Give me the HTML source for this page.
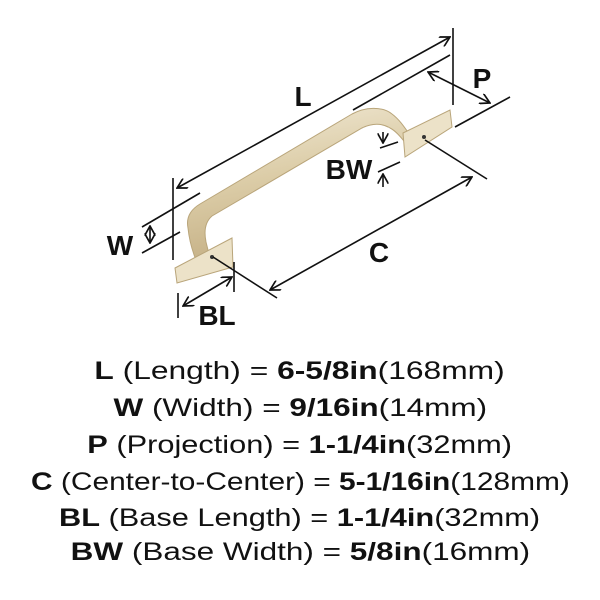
<!DOCTYPE html>
<html><head><style>
body{margin:0;background:#fff;width:600px;height:600px;overflow:hidden;font-family:"Liberation Sans",sans-serif;}
.t{position:absolute;left:0;width:600px;text-align:center;font-size:25px;line-height:30px;color:#111;white-space:nowrap;}
.t span{display:inline-block;}
b{font-weight:bold}
</style></head><body>
<svg width="600" height="600" style="position:absolute;left:0;top:0">
<defs>
<linearGradient id="g" x1="0" y1="0" x2="0.3" y2="1">
<stop offset="0" stop-color="#f3ecda"/><stop offset="0.5" stop-color="#dccda8"/><stop offset="1" stop-color="#c4af84"/>
</linearGradient>
<marker id="a" viewBox="0 0 10 10" refX="9" refY="5" markerWidth="7" markerHeight="7" orient="auto-start-reverse"><path d="M0,0 L9,5 L0,10" fill="none" stroke="#111" stroke-width="1.5"/></marker>
</defs>
<path d="M188,228 C186,218 190,210 200,204 L352,114 C365,107 382,106 392,114 C400,120 405,128 412,138 L412,150 C404,142 398,132 390,128 C382,123 372,123 362,128 L212,216 C205,222 204,232 206,242 L210,258 L196,260 C192,250 189,238 188,228 Z" fill="url(#g)" stroke="#b9a57a" stroke-width="1"/>
<path d="M175,268 L232,238 L233,267 L177,283 Z" fill="#ece2c8" stroke="#b9a57a"/>
<path d="M403,133 L450,110 L452,127 L405,157 Z" fill="#ece2c8" stroke="#b9a57a"/>
<circle cx="212" cy="257" r="2" fill="#333"/><circle cx="424" cy="137" r="2" fill="#333"/>
<g stroke="#111" stroke-width="1.6" fill="none">
<line x1="177" y1="188" x2="450" y2="37" marker-start="url(#a)" marker-end="url(#a)"/>
<line x1="453" y1="28" x2="453" y2="105"/>
<line x1="173" y1="178" x2="173" y2="260"/>
<line x1="353" y1="110" x2="450" y2="55"/>
<line x1="428" y1="72" x2="490" y2="103" marker-start="url(#a)" marker-end="url(#a)"/>
<line x1="455" y1="127" x2="510" y2="97"/>
<line x1="383" y1="132" x2="383" y2="143" marker-end="url(#a)"/>
<line x1="380" y1="148" x2="398" y2="142"/>
<line x1="378" y1="172" x2="400" y2="162"/>
<line x1="383" y1="187" x2="383" y2="174" marker-end="url(#a)"/>
<line x1="270" y1="290" x2="472" y2="177" marker-start="url(#a)" marker-end="url(#a)"/>
<line x1="425" y1="140" x2="487" y2="179"/>
<line x1="213" y1="257" x2="277" y2="298"/>
<line x1="142" y1="227" x2="200" y2="193"/>
<line x1="142" y1="253" x2="180" y2="232"/>
<line x1="150" y1="226" x2="150" y2="243" marker-start="url(#a)" marker-end="url(#a)"/>
<line x1="178" y1="293" x2="178" y2="318"/>
<line x1="234" y1="262" x2="234" y2="292"/>
<line x1="183" y1="306" x2="232" y2="277" marker-start="url(#a)" marker-end="url(#a)"/>
</g>
<g font-family="Liberation Sans,sans-serif" font-size="28" font-weight="bold" fill="#111" text-anchor="middle">
<text x="303" y="106">L</text>
<text x="482" y="88">P</text>
<text x="349" y="179">BW</text>
<text x="379" y="262">C</text>
<text x="120" y="255">W</text>
<text x="217" y="325">BL</text>
</g>
</svg>
<div class="t" style="top:356px"><span style="transform:scaleX(1.27)"><b>L</b> (Length) = <b>6-5/8in</b>(168mm)</span></div>
<div class="t" style="top:393px"><span style="transform:scaleX(1.26)"><b>W</b> (Width) = <b>9/16in</b>(14mm)</span></div>
<div class="t" style="top:430px"><span style="transform:scaleX(1.23)"><b>P</b> (Projection) = <b>1-1/4in</b>(32mm)</span></div>
<div class="t" style="top:467px"><span style="transform:scaleX(1.195)"><b>C</b> (Center-to-Center) = <b>5-1/16in</b>(128mm)</span></div>
<div class="t" style="top:503px"><span style="transform:scaleX(1.23)"><b>BL</b> (Base Length) = <b>1-1/4in</b>(32mm)</span></div>
<div class="t" style="top:537px"><span style="transform:scaleX(1.26)"><b>BW</b> (Base Width) = <b>5/8in</b>(16mm)</span></div>
</body></html>
